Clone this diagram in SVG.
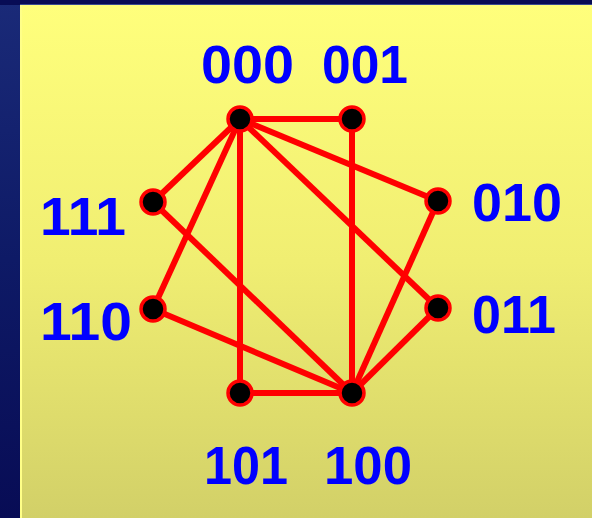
<svg xmlns="http://www.w3.org/2000/svg" width="592" height="518" viewBox="0 0 592 518">
  <defs>
    <linearGradient id="bg" x1="0" y1="0" x2="0" y2="1">
      <stop offset="0" stop-color="#1a2a78"/>
      <stop offset="0.5" stop-color="#0e1a66"/>
      <stop offset="1" stop-color="#080c55"/>
    </linearGradient>
    <linearGradient id="panel" x1="0" y1="0" x2="0" y2="1">
      <stop offset="0" stop-color="#ffff7c"/>
      <stop offset="0.5" stop-color="#f0ee72"/>
      <stop offset="1" stop-color="#d2d068"/>
    </linearGradient>
    <style>
      .edge { stroke: #ff0000; stroke-width: 6; fill: none; }
      .node circle { fill: #000000; stroke: #ff0000; stroke-width: 3.5; }
      .lbl { font-family: "Liberation Sans", Arial, sans-serif; font-weight: bold; font-size: 53px; fill: #0000ff; }
    </style>
  </defs>
  <rect x="0" y="0" width="592" height="518" fill="url(#bg)"/>
  <rect x="0" y="0" width="592" height="5" fill="#080c55"/>
  <rect x="20" y="5" width="572" height="513" fill="url(#panel)"/>
  <rect x="20" y="5" width="2" height="513" fill="#ffff88"/>
  <rect x="20" y="4" width="572" height="1" fill="#3a4a90"/>

  <g id="connectors">
    <line class="edge" x1="240" y1="119" x2="352" y2="119"/>
    <line class="edge" x1="240" y1="119" x2="438" y2="201"/>
    <line class="edge" x1="240" y1="119" x2="438" y2="308"/>
    <line class="edge" x1="240" y1="119" x2="240" y2="393"/>
    <line class="edge" x1="240" y1="119" x2="153" y2="309"/>
    <line class="edge" x1="240" y1="119" x2="153" y2="202"/>
    <line class="edge" x1="352" y1="119" x2="352" y2="393"/>
    <line class="edge" x1="438" y1="201" x2="352" y2="393"/>
    <line class="edge" x1="438" y1="308" x2="352" y2="393"/>
    <line class="edge" x1="240" y1="393" x2="352" y2="393"/>
    <line class="edge" x1="153" y1="309" x2="352" y2="393"/>
    <line class="edge" x1="153" y1="202" x2="352" y2="393"/>
  </g>

  <g id="n000" class="node"><circle cx="240" cy="119" r="12"/><text class="lbl" x="201" y="83" textLength="93" lengthAdjust="spacingAndGlyphs">000</text></g>
  <g id="n001" class="node"><circle cx="352" cy="119" r="12"/><text class="lbl" x="322" y="83" textLength="86" lengthAdjust="spacingAndGlyphs">001</text></g>
  <g id="n010" class="node"><circle cx="438" cy="201" r="12"/><text class="lbl" x="472" y="221" textLength="90" lengthAdjust="spacingAndGlyphs">010</text></g>
  <g id="n011" class="node"><circle cx="438" cy="308" r="12"/><text class="lbl" x="472" y="333" textLength="84" lengthAdjust="spacingAndGlyphs">011</text></g>
  <g id="n100" class="node"><circle cx="352" cy="393" r="12"/><text class="lbl" x="324" y="484" textLength="88" lengthAdjust="spacingAndGlyphs">100</text></g>
  <g id="n101" class="node"><circle cx="240" cy="393" r="12"/><text class="lbl" x="204" y="484" textLength="84" lengthAdjust="spacingAndGlyphs">101</text></g>
  <g id="n110" class="node"><circle cx="153" cy="309" r="12"/><text class="lbl" x="40" y="340" textLength="92" lengthAdjust="spacingAndGlyphs">110</text></g>
  <g id="n111" class="node"><circle cx="153" cy="202" r="12"/><text class="lbl" x="40" y="235" textLength="86" lengthAdjust="spacingAndGlyphs">111</text></g>
</svg>
